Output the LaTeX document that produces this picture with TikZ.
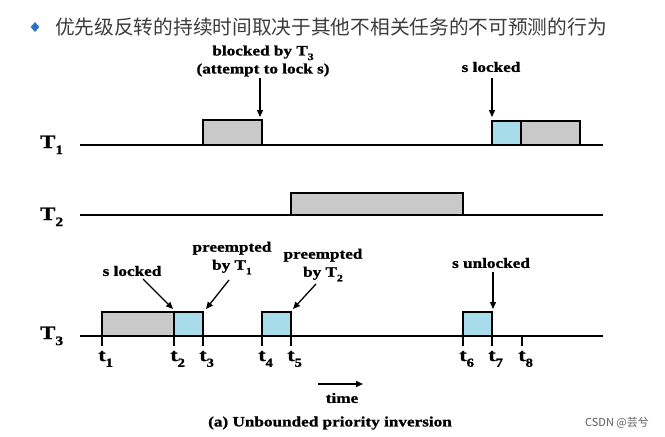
\documentclass[tikz,border=0pt]{standalone}
\usepackage{fontspec}
\setmainfont{Liberation Serif}
\newfontfamily\cjk{Noto Sans CJK SC}
\newfontfamily\figf[FakeStretch=1.2,FakeBold=1.2]{Liberation Serif}
\usetikzlibrary{arrows.meta,shapes.geometric}
\definecolor{boxgray}{RGB}{201,201,201}
\definecolor{boxblue}{RGB}{169,220,235}
\definecolor{titlegray}{RGB}{60,60,60}
\definecolor{bulletblue}{RGB}{47,110,200}
\definecolor{wmgray}{RGB}{90,90,90}
\newcommand\dn[1]{\raisebox{-0.32em}{\scalebox{0.68}{#1}}}
\begin{document}
\begin{tikzpicture}[x=1pt,y=-1pt,
  axis/.style={line width=2pt},
  tickmark/.style={line width=1.6pt},
  graybox/.style={draw, line width=1.8pt, fill=boxgray},
  bluebox/.style={draw, line width=1.8pt, fill=boxblue},
  lbl/.style={font=\figf\bfseries\fontsize{14.3}{18}\selectfont, align=center, inner sep=0pt},
  tlab/.style={font=\figf\bfseries\fontsize{19}{20}\selectfont, inner sep=0pt, anchor=base west},
  tklab/.style={font=\figf\bfseries\fontsize{18}{19}\selectfont, inner sep=0pt, anchor=base},
  ptr/.style={-{Triangle[length=7pt,width=6pt]}, line width=1.3pt}]
\useasboundingbox (0,0) rectangle (665,437);

% title
\node[diamond, fill=bulletblue, minimum width=9pt, minimum height=10pt, inner sep=0pt] (bullet) at (35,27) {};
\node[anchor=west, font=\cjk\fontsize{19.7}{24}\selectfont, text=titlegray, inner sep=0pt] (title) at (55,27)
  {优先级反转的持续时间取决于其他不相关任务的不可预测的行为};

% task labels
\node[tlab] (T1) at (40,148) {T\dn{1}};
\node[tlab] (T2) at (40,220) {T\dn{2}};
\node[tlab] (T3) at (40,339) {T\dn{3}};

% boxes T1
\draw[graybox] (203,145) rectangle (262,120);
\draw[bluebox] (492,145) rectangle (521,121);
\draw[graybox] (521,145) rectangle (580,121);
% box T2
\draw[graybox] (291,215) rectangle (463,193);
% boxes T3
\draw[graybox] (102,336) rectangle (174,312);
\draw[bluebox] (174,336) rectangle (203,312);
\draw[bluebox] (262,336) rectangle (291,312);
\draw[bluebox] (463,336) rectangle (492,312);

% axes
\draw[axis] (80,145) -- (603,145);
\draw[axis] (80,215) -- (603,215);
\draw[axis] (80,336) -- (603,336);

% ticks and labels
\foreach \x/\n in {102/1,174/2,203/3,262/4,291/5,463/6,492/7,522/8}{
  \draw[tickmark] (\x,336) -- (\x,346);
  \node[tklab] (t\n) at (\x,361) {t\rlap{\dn{\n}}};
}

% annotations T1
\node[lbl] (blk) at (263,61) {blocked by T\dn{3}\\(attempt to lock s)};
\coordinate (blkT) at (260,117);
\draw[ptr] (260,78) coordinate (blkS) -- (blkT);

\node[lbl] (slk1) at (491,67) {s locked};
\coordinate (slk1S) at (492,78);
\coordinate (slk1T) at (492,117);
\draw[ptr] (slk1S) -- (slk1T);

% annotations T3
\node[lbl] (slk3) at (132,271) {s locked};
\coordinate (slk3S) at (143,279);
\coordinate (slk3T) at (173,309);
\draw[ptr] (slk3S) -- (slk3T);

\node[lbl] (pre1) at (232,258) {preempted\\by T\dn{1}};
\coordinate (pre1S) at (229,280);
\coordinate (pre1T) at (206,309);
\draw[ptr] (pre1S) -- (pre1T);

\node[lbl] (pre2) at (323,265) {preempted\\by T\dn{2}};
\coordinate (pre2S) at (316,284);
\coordinate (pre2T) at (293,309);
\draw[ptr] (pre2S) -- (pre2T);

\node[lbl] (sunl) at (491,263) {s unlocked};
\coordinate (sunlS) at (493,272);
\coordinate (sunlT) at (493,309);
\draw[ptr] (sunlS) -- (sunlT);

% time arrow
\coordinate (timeA) at (318,384);
\coordinate (timeB) at (363,384);
\draw[ptr, line width=1.5pt] (timeA) -- (timeB);
\node[lbl] (time) at (342,398) {time};

% caption
\node[lbl] (cap) at (330,423) {(a) Unbounded priority inversion};

% watermark
\node[font=\cjk\fontsize{11}{12}\selectfont, text=wmgray, inner sep=0pt] (wm) at (617,423) {CSDN @芸兮};
\end{tikzpicture}
\end{document}
